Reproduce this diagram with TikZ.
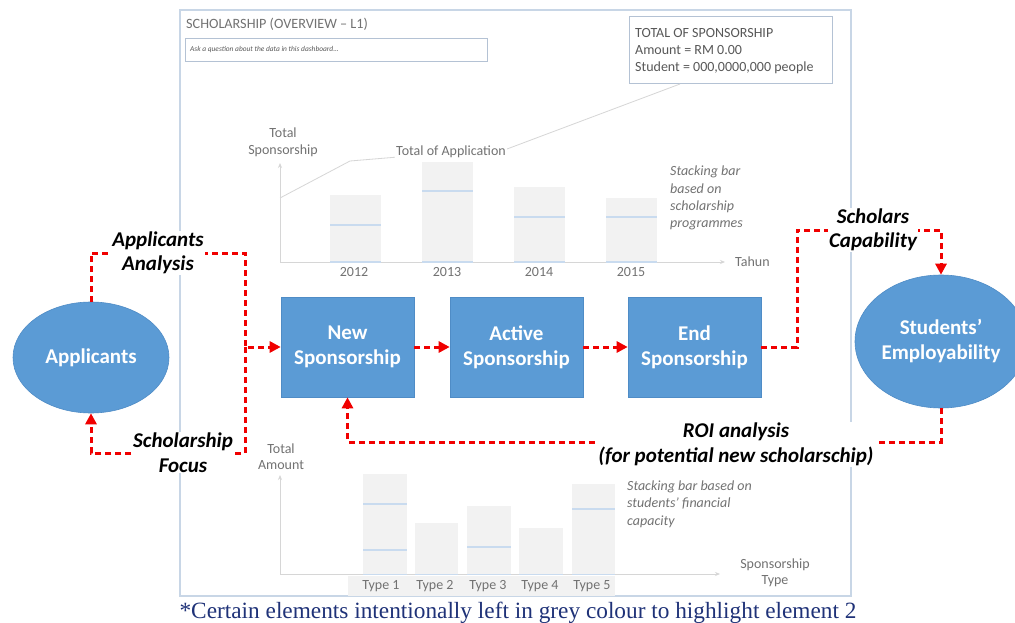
\documentclass[tikz,border=0pt]{standalone}
\usepackage{fontspec}
\setmainfont{Carlito}
\newfontfamily\captfont{Liberation Serif}
\usetikzlibrary{arrows.meta,shapes.geometric}
\definecolor{nodeblue}{HTML}{5B9BD5}
\definecolor{nodeedge}{HTML}{4F8CC6}
\definecolor{flowred}{HTML}{F00000}
\definecolor{framecol}{HTML}{C8D6E6}
\definecolor{boxcol}{HTML}{B4C2D4}
\definecolor{greytxt}{HTML}{727272}
\definecolor{dgreytxt}{HTML}{585858}
\definecolor{barfill}{HTML}{F2F2F2}
\definecolor{barline}{HTML}{C9DBEF}
\definecolor{axiscol}{HTML}{D6D6D6}
\definecolor{captcol}{HTML}{1F3278}
\tikzset{
  flowbox/.style={rectangle, fill=nodeblue, draw=nodeedge, line width=0.6pt,
    minimum width=133pt, minimum height=100pt, inner sep=0pt, text=white,
    align=center, font=\fontsize{21}{25}\selectfont\bfseries},
  flowell/.style={ellipse, fill=nodeblue, draw=nodeedge, line width=0.6pt,
    inner sep=0pt, text=white, align=center,
    font=\fontsize{21}{25}\selectfont\bfseries},
  flow/.style={draw=flowred, line width=3pt, dash pattern=on 6pt off 4pt},
  flowarrow/.style={flow, -{Triangle[length=11pt,width=11pt]}},
  flowlabel/.style={fill=white, inner sep=1pt, align=center, text=black,
    font=\fontsize{21}{24.5}\selectfont\bfseries\itshape},
  dash14/.style={text=greytxt, inner sep=0pt, font=\fontsize{14}{17}\selectfont},
  dashit/.style={text=greytxt, inner sep=0pt, align=left,
    font=\fontsize{14}{17.3}\selectfont\itshape},
  chartaxis/.style={draw=axiscol, line width=0.8pt, -{Stealth[length=5pt,width=4pt]}},
  barmid/.style={draw=barline, line width=1.3pt},
}
\begin{document}
\begin{tikzpicture}[x=1pt,y=-1pt]
\useasboundingbox (0,0) rectangle (1015,623);
\clip (0,0) rectangle (1015,623);
\fill[white] (0,0) rectangle (1015,623);

% dashboard frame
\draw[framecol, line width=1.2pt] (180,10) rectangle (851,596);
\node[anchor=west, inner sep=0pt, text=greytxt, font=\fontsize{14.2}{16}\selectfont] (title) at (186,24) {SCHOLARSHIP (OVERVIEW – L1)};
\node[draw=boxcol, line width=0.8pt, anchor=north west, minimum width=302pt, minimum height=23pt, inner sep=0pt] (ask) at (185,38) {};
\node[anchor=west, inner sep=0pt, text=dgreytxt, font=\fontsize{7.4}{9}\selectfont\itshape] (asktxt) at (190,49.5) {Ask a question about the data in this dashboard...};

\node[draw=boxcol, line width=0.8pt, anchor=north west, minimum width=203pt, minimum height=67pt, inner sep=0pt] (totbox) at (629,16) {};
\node[anchor=base west, inner sep=0pt, text=dgreytxt, font=\fontsize{14}{17}\selectfont] (tot1) at (635,38) {TOTAL OF SPONSORSHIP};
\node[anchor=base west, inner sep=0pt, text=dgreytxt, font=\fontsize{14}{17}\selectfont] (tot2) at (635,55) {Amount = RM 0.00};
\node[anchor=base west, inner sep=0pt, text=dgreytxt, font=\fontsize{14}{17}\selectfont] (tot3) at (635,72) {Student = 000,0000,000 people};

% top chart
\fill[barfill] (330,195) rectangle (381,262);
\fill[barfill] (422,162) rectangle (473,262);
\fill[barfill] (514,187) rectangle (565,262);
\fill[barfill] (606,198) rectangle (657,262);
\draw[barmid] (330,225) -- (381,225);
\draw[barmid] (422,191) -- (473,191);
\draw[barmid] (514,217) -- (565,217);
\draw[barmid] (606,217) -- (657,217);
\draw[axiscol, line width=0.8pt] (280,198) -- (350,161) -- (398,157) -- (507,149) -- (680,84);
\draw[chartaxis] (280,262) -- (280,163);
\draw[chartaxis] (280,262) -- (725,262);
\foreach \bx in {330,422,514,606} \draw[barline, line width=1.3pt] (\bx,262) -- (\bx+51,262);
\node[dash14, align=center] (tsp) at (283,142.5) {Total\\Sponsorship};
\node[dash14, fill=white, inner sep=1pt] (toa) at (451,152) {Total of Application};
\node[dash14] (y12) at (354,272) {2012};
\node[dash14] (y13) at (447,272) {2013};
\node[dash14] (y14) at (539,272) {2014};
\node[dash14] (y15) at (631,272) {2015};
\node[dash14, anchor=west] (tahun) at (735,262) {Tahun};
\node[dashit, anchor=west] (stk1) at (670,198) {Stacking bar\\based on\\scholarship\\programmes};

% bottom chart
\fill[barfill] (348,576) rectangle (615,596);
\fill[barfill] (363,474) rectangle (407,575);
\fill[barfill] (415,523) rectangle (458,575);
\fill[barfill] (467,506) rectangle (511,575);
\fill[barfill] (519,528) rectangle (563,575);
\fill[barfill] (572,484) rectangle (615,575);
\draw[barmid] (363,504) -- (407,504);
\draw[barmid] (363,550) -- (407,550);
\draw[barmid] (467,547) -- (511,547);
\draw[barmid] (572,509) -- (615,509);
\draw[chartaxis] (280,574) -- (280,475);
\draw[chartaxis] (280,574) -- (720,574);
\foreach \bx/\bw in {363/44,415/43,467/44,519/44,572/43} \draw[barline, line width=1.3pt] (\bx,574.5) -- (\bx+\bw,574.5);
\node[dash14, align=center, font=\fontsize{14}{16}\selectfont] (tam) at (281,456.5) {Total\\Amount};
\node[dash14] (ty1) at (381,586) {Type 1};
\node[dash14] (ty2) at (435,586) {Type 2};
\node[dash14] (ty3) at (488,586) {Type 3};
\node[dash14] (ty4) at (540,586) {Type 4};
\node[dash14] (ty5) at (592,586) {Type 5};
\node[dash14, align=center, font=\fontsize{14}{16}\selectfont] (spt) at (775,572.5) {Sponsorship\\Type};
\node[dashit, anchor=west] (stk2) at (627,504) {Stacking bar based on\\students’ financial\\capacity};

% flow nodes
\node[flowell, minimum width=156pt, minimum height=111pt] (app) at (91,357.5) {Applicants};
\node[flowbox] (new) at (347.5,347) {New\\Sponsorship};
\node[flowbox] (act) at (516.5,347) {Active\\Sponsorship};
\node[flowbox] (end) at (694.5,347) {End\\Sponsorship};
\node[flowell, minimum width=172pt, minimum height=133pt] (stu) at (941,341.5) {Students’\\Employability};

% connectors
\coordinate (aaL) at (91,253);
\coordinate (aaR) at (245,253);
\coordinate (sfR) at (245,453);
\coordinate (sfL) at (91,453);
\coordinate (scL) at (797,230);
\coordinate (scR) at (941,230);
\coordinate (roiR) at (941,442);
\coordinate (roiL) at (347.5,442);
\draw[flowarrow] (app.north) -- (aaL) -- (aaR) -- (aaR |- new.west) -- (new.west);
\draw[flowarrow] (aaR |- new.west) -- (sfR) -- (sfL) -- (app.south);
\draw[flowarrow] (new.east) -- (act.west);
\draw[flowarrow] (act.east) -- (end.west);
\draw[flowarrow] (end.east) -- (end.east -| scL) -- (scL) -- (scR) -- (stu.north);
\draw[flowarrow] (stu.south) -- (roiR) -- (roiL) -- (new.south);

\node[flowlabel] (lbaa) at (158,253) {Applicants\\Analysis};
\node[flowlabel] (lbsf) at (183,452.5) {Scholarship\\Focus};
\node[flowlabel] (lbsc) at (873,230) {Scholars\\Capability};
\node[flowlabel] (lbroi) at (736,444.5) {ROI analysis\\(for potential new scholarschip)};

% caption
\node[anchor=base, inner sep=0pt, text=captcol, font=\captfont\fontsize{23.3}{27}\selectfont] (cap) at (518,618) {*Certain elements intentionally left in grey colour to highlight element 2};
\end{tikzpicture}
\end{document}
